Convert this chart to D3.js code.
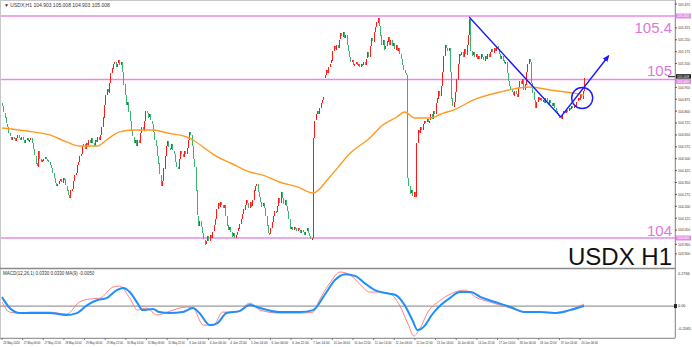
<!DOCTYPE html>
<html>
<head>
<meta charset="utf-8">
<script src="https://cdn.jsdelivr.net/npm/d3@7"></script>
<style>
body { margin: 0; background: #fff; }
svg { display: block; font-family: "Liberation Sans", Arial, sans-serif; }
</style>
</head>
<body>
<div id="chart"></div>
<script>
// hourly closes, USDX H1
const closes = [
  104.83,104.79,104.76,104.72,104.70,104.66,104.64,104.62,104.64,104.63,
  104.61,104.63,104.65,104.63,104.62,104.64,104.62,104.60,104.62,104.63,
  104.61,104.62,104.63,104.60,104.56,104.52,104.47,104.45,104.55,104.50,
  104.48,104.49,104.50,104.51,104.50,104.49,104.48,104.46,104.44,104.41,
  104.38,104.35,104.33,104.34,104.36,104.37,104.35,104.38,104.37,104.33,
  104.30,104.27,104.25,104.30,104.31,104.36,104.40,104.41,104.46,104.48,
  104.52,104.53,104.58,104.59,104.56,104.60,104.59,104.62,104.60,104.63,
  104.60,104.58,104.62,104.61,104.64,104.62,104.65,104.70,104.76,104.84,
  104.90,104.94,104.92,104.98,105.04,105.07,105.10,105.11,105.08,105.10,
  105.12,105.09,105.11,105.05,104.97,104.90,104.84,104.86,104.80,104.74,
  104.68,104.64,104.60,104.62,104.58,104.62,104.60,104.66,104.70,104.68,
  104.74,104.80,104.79,104.76,104.78,104.74,104.72,104.67,104.62,104.58,
  104.52,104.47,104.40,104.33,104.36,104.44,104.52,104.58,104.61,104.57,
  104.56,104.59,104.55,104.53,104.48,104.45,104.44,104.50,104.55,104.53,
  104.51,104.55,104.53,104.57,104.62,104.67,104.65,104.58,104.50,104.45,
  104.30,104.14,104.08,104.11,104.07,104.03,103.99,103.96,103.98,104.01,
  103.98,104.02,104.00,104.04,104.08,104.12,104.18,104.22,104.20,104.23,
  104.21,104.19,104.21,104.14,104.08,104.05,104.07,104.04,104.01,104.03,
  104.00,104.02,104.04,104.06,104.09,104.12,104.15,104.18,104.21,104.24,
  104.22,104.19,104.23,104.20,104.24,104.30,104.33,104.34,104.29,104.26,
  104.23,104.20,104.22,104.19,104.14,104.08,104.03,104.02,104.06,104.10,
  104.14,104.17,104.16,104.20,104.25,104.22,104.29,104.25,104.21,104.24,
  104.20,104.17,104.12,104.06,104.07,104.05,104.07,104.06,104.04,104.06,
  104.05,104.03,104.05,104.04,104.02,104.04,104.06,104.03,104.01,103.99,
  104.00,104.63,104.74,104.78,104.80,104.78,104.82,104.85,104.87,104.89,
  105.03,105.06,105.04,105.08,105.10,105.12,105.18,105.21,105.19,105.22,
  105.20,105.25,105.29,105.27,105.30,105.26,105.28,105.22,105.18,105.14,
  105.11,105.12,105.09,105.10,105.11,105.09,105.10,105.08,105.10,105.09,
  105.11,105.09,105.13,105.17,105.14,105.21,105.26,105.24,105.30,105.33,
  105.36,105.39,105.34,105.28,105.22,105.25,105.19,105.21,105.24,105.27,
  105.22,105.25,105.21,105.23,105.19,105.22,105.18,105.20,105.16,105.13,
  105.09,105.06,105.04,105.03,104.38,104.33,104.28,104.30,104.26,104.29,
  104.26,104.60,104.68,104.66,104.70,104.68,104.72,104.74,104.73,104.75,
  104.73,104.74,104.78,104.75,104.80,104.78,104.85,104.88,104.93,104.90,
  104.96,105.05,105.15,105.22,105.20,105.18,105.20,105.05,104.88,104.83,
  104.86,104.92,105.00,105.10,105.16,105.15,105.17,105.14,105.19,105.16,
  105.22,105.28,105.38,105.18,105.15,105.17,105.14,105.16,105.13,105.15,
  105.13,105.16,105.14,105.12,105.15,105.13,105.16,105.14,105.17,105.19,
  105.17,105.20,105.18,105.21,105.19,105.16,105.13,105.15,105.12,105.10,
  105.11,105.04,104.99,104.96,104.94,104.92,104.90,104.93,104.91,104.89,
  104.95,104.99,104.97,105.00,104.93,104.97,105.05,105.10,105.13,105.11,
  104.98,104.92,104.87,104.82,104.86,104.89,104.87,104.88,104.86,104.87,
  104.85,104.88,104.86,104.84,104.87,104.85,104.83,104.85,104.82,104.80,
  104.79,104.77,104.76,104.75,104.78,104.80,104.79,104.81,104.80,104.82,
  104.81,104.83,104.82,104.84,104.83,104.86,104.88,104.87,104.90,104.88,
  104.93,105.01
];
const firstOpen = 104.85;
const gapBars = [250];
const gapOpens = [105.01];

// moving average (orange), sampled at bar indexes
const maIdx = [0,24,37,50,60,74,81,91,102,117,128,143,148,159,167,177,192,202,215,229,241,254,270,285,295,306,312,320,332,342,350,365,386,409,425,443,451];
const maVal = [104.694,104.669,104.650,104.606,104.580,104.580,104.618,104.669,104.681,104.681,104.662,104.637,104.618,104.555,104.511,104.473,104.416,104.397,104.353,104.322,104.284,104.385,104.536,104.631,104.713,104.763,104.795,104.757,104.757,104.788,104.807,104.870,104.921,104.952,104.933,104.914,104.902];

// MACD(12,26,1) main line (blue) and signal (red)
const macdIdx = [0,6,14,24,37,50,58,66,74,81,89,94,99,105,109,117,122,130,140,148,153,161,167,174,184,192,200,215,231,241,250,258,266,274,281,289,297,305,312,318,322,328,333,340,347,355,363,371,382,394,405,417,428,440,451];
const macdVal = [0.073,-0.016,-0.057,-0.057,-0.057,-0.073,-0.057,0.008,0.049,0.065,0.130,0.147,0.114,0.024,-0.033,-0.024,-0.049,-0.057,-0.049,-0.016,-0.057,-0.155,-0.138,-0.057,-0.041,0.008,-0.016,-0.049,-0.049,-0.033,0.090,0.212,0.260,0.244,0.187,0.130,0.106,0.090,0.008,-0.114,-0.195,-0.155,-0.073,0.008,0.065,0.114,0.114,0.073,0.033,-0.008,-0.049,-0.049,-0.057,-0.033,0.000];
const sigIdx = [0,6,14,22,37,50,60,68,76,86,91,99,105,112,120,128,143,148,156,164,171,182,192,200,215,231,241,246,254,262,270,278,285,293,301,308,315,319,324,330,340,351,359,367,378,394,405,421,433,444,451];
const sigVal = [0.033,-0.049,-0.057,-0.049,-0.049,-0.065,0.033,0.057,0.065,0.155,0.163,0.065,-0.033,-0.016,-0.073,-0.049,-0.008,-0.016,-0.155,-0.155,-0.049,-0.049,0.024,-0.033,-0.057,-0.057,-0.049,0.049,0.187,0.277,0.252,0.171,0.114,0.114,0.098,0.008,-0.155,-0.244,-0.179,-0.049,0.049,0.114,0.130,0.073,0.033,-0.016,-0.049,-0.049,-0.057,-0.016,0.016];

// horizontal levels
const levels = [105.4, 105.0, 104.0];
const levelLabels = ["105.4", "105", "104"];

// right axis
const priceTicks = [105.475,105.325,105.250,105.175,105.100,104.950,104.875,104.800,104.725,104.650,104.575,104.500,104.425,104.350,104.275,104.200,104.125,104.050,103.960,103.900];
const priceTickLabels = ["105.475","105.325","105.250","105.175","105.100","104.950","104.875","104.800","104.725","104.650","104.575","104.500","104.425","104.350","104.275","104.200","104.125","104.050","103.960","103.900"];
const lastPrice = 105.008;
const macdTicks = [0.2766, 0, -0.2065];
const macdTickLabels = ["0.2766", "0.00", "-0.2065"];

// time axis, one label every 16 bars
const timeLabels = ["24 May 2024","27 May 06:00","27 May 22:00","28 May 14:00","29 May 06:00","29 May 22:00","30 May 14:00","31 May 06:00","31 May 22:00","3 Jun 14:00","4 Jun 06:00","4 Jun 22:00","5 Jun 14:00","6 Jun 06:00","6 Jun 22:00","7 Jun 14:00","10 Jun 06:00","10 Jun 22:00","11 Jun 14:00","12 Jun 06:00","12 Jun 22:00","13 Jun 14:00","14 Jun 06:00","14 Jun 22:00","17 Jun 14:00","18 Jun 06:00","18 Jun 22:00","19 Jun 14:00","20 Jun 06:00"];

// blue drawing: trend line then arrow, and circle
const trendIdx = [362, 433, 470];
const trendVal = [105.394, 104.763, 105.148];
const circleIdx = 449.6, circleVal = 104.883;

const W = 692, H = 347;
const axisX = 675;

var svg = d3.select("#chart").append("svg")
      .attr("width", W)
      .attr("height", H);

var x = d3.scaleLinear().domain([0, closes.length - 1]).range([2, 584]);
var y = d3.scaleLinear().domain([104, 105.4]).range([238, 16]);
var yM = d3.scaleLinear().domain([-0.26, 0.31]).range([338, 268]);

// frame
svg.append("rect")
  .attr("x", 0.5).attr("y", 0.5)
  .attr("width", axisX - 0.5).attr("height", 337.5)
  .attr("fill", "none")
  .attr("stroke", "#c8c8c8");

// levels
svg.selectAll(".lvl")
  .data(levels)
  .enter()
  .append("line")
  .attr("x1", 1).attr("x2", axisX)
  .attr("y1", d => y(d)).attr("y2", d => y(d))
  .attr("stroke", "#e58be5")
  .attr("stroke-width", 1.4);

// candles
var bars = closes.map(function(c, i) {
  var o = i == 0 ? firstOpen : closes[i - 1];
  var g = gapBars.indexOf(i);
  if (g >= 0) o = gapOpens[g];
  return {i: i, o: o, c: c};
});

svg.append("g").selectAll("rect")
  .data(bars)
  .enter()
  .append("rect")
  .attr("x", d => Math.round(x(d.i)))
  .attr("width", 1)
  .attr("y", d => Math.round(y(Math.max(d.o, d.c))))
  .attr("height", d => Math.max(1, Math.round(Math.abs(y(d.o) - y(d.c)))))
  .attr("fill", d => d.c >= d.o ? "#ff1a1a" : "#3cb371")
  .attr("shape-rendering", "crispEdges");

// moving average
var maLine = d3.line()
  .x(d => x(d[0])).y(d => y(d[1]))
  .curve(d3.curveMonotoneX);
svg.append("path")
  .attr("d", maLine(d3.zip(maIdx, maVal)))
  .attr("fill", "none")
  .attr("stroke", "#ff9a1f")
  .attr("stroke-width", 1.4);

// level labels: top one sits under its line, the others above
var labelDy = [17, -3, -2];
svg.selectAll(".lvlText")
  .data(levels)
  .enter()
  .append("text")
  .attr("x", 672)
  .attr("y", (d, i) => y(d) + labelDy[i])
  .attr("text-anchor", "end")
  .attr("font-size", 15)
  .attr("fill", "#dd77dd")
  .text((d, i) => levelLabels[i]);

svg.append("text")
  .attr("x", 672)
  .attr("y", 265)
  .attr("text-anchor", "end")
  .attr("font-size", 24)
  .attr("fill", "#111")
  .text("USDX H1");

// blue annotation
var trendPts = d3.zip(trendIdx, trendVal);
svg.append("defs").append("marker")
  .attr("id", "arr")
  .attr("viewBox", "0 0 10 10")
  .attr("refX", 8).attr("refY", 5)
  .attr("markerWidth", 5).attr("markerHeight", 5)
  .attr("orient", "auto")
  .append("path")
  .attr("d", "M0,1 L10,5 L0,9 z")
  .attr("fill", "#1a1aff");

svg.append("path")
  .attr("d", d3.line().x(d => x(d[0])).y(d => y(d[1]))(trendPts))
  .attr("fill", "none")
  .attr("stroke", "#1a1aff")
  .attr("stroke-width", 1.4)
  .attr("marker-end", "url(#arr)");

svg.append("circle")
  .attr("cx", x(circleIdx))
  .attr("cy", y(circleVal))
  .attr("r", 10.5)
  .attr("fill", "none")
  .attr("stroke", "#1a1aff")
  .attr("stroke-width", 1.4);

// header
svg.append("text")
  .attr("x", 4).attr("y", 7)
  .attr("font-size", 5)
  .attr("fill", "#333")
  .text("\u25BC USDX,H1  104.903 105.008 104.903 105.008");

// right axis
svg.append("line")
  .attr("x1", axisX + 0.5).attr("x2", axisX + 0.5)
  .attr("y1", 0).attr("y2", 338)
  .attr("stroke", "#9a9a9a");

var pt = svg.append("g").selectAll("g")
  .data(priceTicks)
  .enter()
  .append("g")
  .attr("transform", d => "translate(" + axisX + "," + y(d) + ")");
pt.append("line").attr("x1", 0).attr("x2", 2).attr("stroke", "#555");
pt.append("text")
  .attr("x", 3).attr("y", 1.4)
  .attr("font-size", 3.8)
  .attr("textLength", 12)
  .attr("lengthAdjust", "spacingAndGlyphs")
  .attr("fill", "#333")
  .text((d, i) => priceTickLabels[i]);

// highlighted level tags on the axis
svg.selectAll(".tag")
  .data(levels)
  .enter()
  .append("rect")
  .attr("x", axisX + 1).attr("y", (d, i) => y(d) - (i == 1 ? 0.5 : 2.5))
  .attr("width", 15).attr("height", 5)
  .attr("fill", "#e58be5");
svg.selectAll(".tagText")
  .data(levels)
  .enter()
  .append("text")
  .attr("x", axisX + 2).attr("y", (d, i) => y(d) + (i == 1 ? 3.4 : 1.4))
  .attr("font-size", 3.8)
  .attr("textLength", 12)
  .attr("lengthAdjust", "spacingAndGlyphs")
  .attr("fill", "#fff")
  .text(d => d3.format(".3f")(d));

svg.append("rect")
  .attr("x", axisX + 1).attr("y", y(lastPrice) - 4)
  .attr("width", 15).attr("height", 4.5)
  .attr("fill", "#222");
svg.append("text")
  .attr("x", axisX + 2).attr("y", y(lastPrice) - 0.6)
  .attr("font-size", 3.6)
  .attr("textLength", 12)
  .attr("lengthAdjust", "spacingAndGlyphs")
  .attr("fill", "#fff")
  .text(d3.format(".3f")(lastPrice));
svg.append("line")
  .attr("x1", 668).attr("x2", axisX)
  .attr("y1", y(lastPrice) - 1.5).attr("y2", y(lastPrice) - 1.5)
  .attr("stroke", "#222");

// MACD pane
svg.append("line")
  .attr("x1", 0).attr("x2", axisX)
  .attr("y1", 268.5).attr("y2", 268.5)
  .attr("stroke", "#8a8a8a")
  .attr("stroke-width", 1.6);
svg.append("line")
  .attr("x1", 0).attr("x2", axisX)
  .attr("y1", yM(0)).attr("y2", yM(0))
  .attr("stroke", "#9a9a9a")
  .attr("stroke-width", 1.2);
svg.append("line")
  .attr("x1", 0).attr("x2", axisX)
  .attr("y1", 338.5).attr("y2", 338.5)
  .attr("stroke", "#9a9a9a");

var mLine = d3.line()
  .x(d => x(d[0])).y(d => yM(d[1]))
  .curve(d3.curveMonotoneX);

svg.append("path")
  .attr("d", mLine(d3.zip(sigIdx, sigVal)))
  .attr("fill", "none")
  .attr("stroke", "#ff8080")
  .attr("stroke-width", 1);

svg.append("path")
  .attr("d", mLine(d3.zip(macdIdx, macdVal)))
  .attr("fill", "none")
  .attr("stroke", "#1e8fff")
  .attr("stroke-width", 2);

svg.append("text")
  .attr("x", 3).attr("y", 275)
  .attr("font-size", 4.5)
  .attr("fill", "#333")
  .text("MACD(12,26,1) 0.0330 0.0330  MA(9) -0.0050");

svg.append("g").selectAll("text")
  .data(macdTicks)
  .enter()
  .append("text")
  .attr("x", axisX + 3)
  .attr("y", (d, i) => yM(d) + (i == 0 ? 3 : i == 2 ? -1 : 1.4))
  .attr("font-size", 3.8)
  .attr("fill", "#333")
  .text((d, i) => macdTickLabels[i]);
svg.append("rect")
  .attr("x", axisX - 1).attr("y", yM(0) - 2)
  .attr("width", 3).attr("height", 4)
  .attr("fill", "#222");

// time axis
var tg = svg.append("g").selectAll("g")
  .data(timeLabels)
  .enter()
  .append("g")
  .attr("transform", (d, i) => "translate(" + x(i * 16) + ",338)");
tg.append("line").attr("y1", 0).attr("y2", 2).attr("stroke", "#777");
tg.append("text")
  .attr("x", 1.2).attr("y", 6)
  .attr("font-size", 3.6)
  .attr("textLength", 16.5)
  .attr("lengthAdjust", "spacingAndGlyphs")
  .attr("fill", "#333")
  .text(d => d);
</script>
</body>
</html>
